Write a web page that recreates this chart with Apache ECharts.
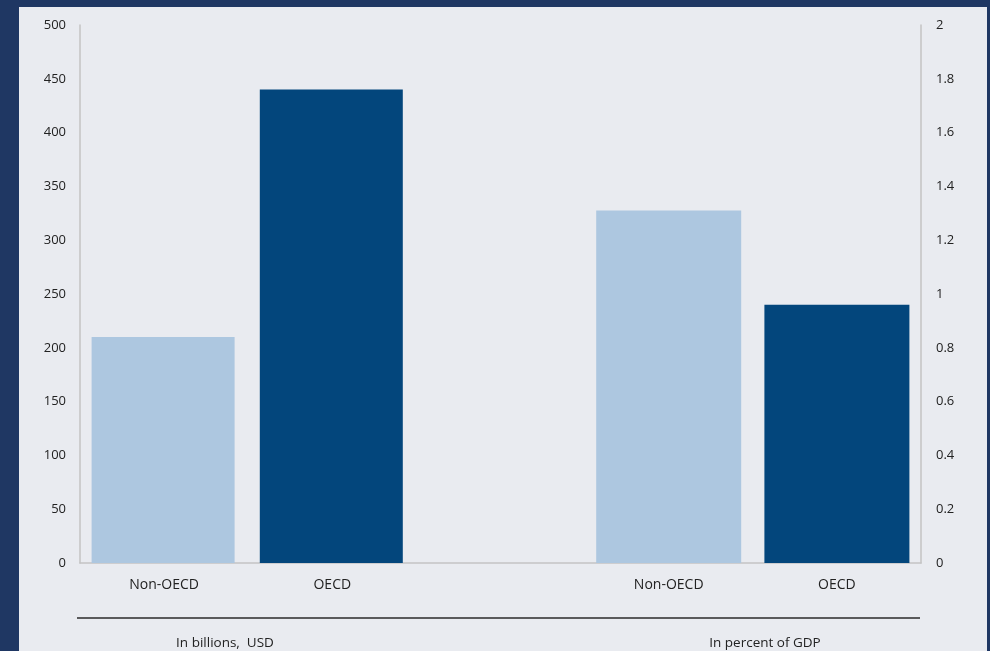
<!DOCTYPE html>
<html>
<head>
<meta charset="utf-8">
<script src="https://cdn.jsdelivr.net/npm/echarts@6/dist/echarts.min.js"></script>
<style>
html,body{margin:0;padding:0;background:#1f3763;width:990px;height:651px;overflow:hidden;}
#panel{position:absolute;left:19px;top:7px;width:968px;height:650px;background:#e9ebf0;}
#chart{position:absolute;left:0;top:0;width:990px;height:651px;}
</style>
</head>
<body>
<div id="panel"></div>
<div id="chart"></div>
<script>
const categories = ['Non-OECD', 'OECD', '', 'Non-OECD', 'OECD'];
const billionsUSD = [210, 440, null, null, null];
const percentGDP = [null, null, null, 1.31, 0.96];
const barColors = ['#adc7e0', '#03467c', '#adc7e0', '#adc7e0', '#03467c'];
const groupLabels = ['In billions,  USD', 'In percent of GDP'];

const chart = echarts.init(document.getElementById('chart'));
const font = '"Open Sans", "Noto Sans", sans-serif';
const colorize = arr => arr.map((v, i) => v === null ? null : { value: v, itemStyle: { color: barColors[i] } });

chart.setOption({
  backgroundColor: 'transparent',
  animation: false,
  grid: { left: 80, right: 69, top: 25, bottom: 88 },
  xAxis: {
    type: 'category',
    data: categories,
    axisLine: { show: true, lineStyle: { color: '#c3c3c3', width: 1.5 } },
    axisTick: { show: false },
    axisLabel: { color: '#222', fontSize: 14, fontFamily: font, margin: 15 }
  },
  yAxis: [
    {
      type: 'value', min: 0, max: 500, interval: 50,
      axisLine: { show: true, lineStyle: { color: '#c3c3c3', width: 1.5 } },
      axisTick: { show: false },
      splitLine: { show: false },
      axisLabel: { color: '#222', fontSize: 13, fontFamily: font, margin: 14 }
    },
    {
      type: 'value', min: 0, max: 2, interval: 0.2,
      axisLine: { show: true, lineStyle: { color: '#c3c3c3', width: 1.5 } },
      axisTick: { show: false },
      splitLine: { show: false },
      axisLabel: { color: '#222', fontSize: 13, fontFamily: font, margin: 15,
        formatter: v => String(Math.round(v * 10) / 10) }
    }
  ],
  series: [
    { type: 'bar', yAxisIndex: 0, data: colorize(billionsUSD), barWidth: 143, barGap: '-100%' },
    { type: 'bar', yAxisIndex: 1, data: colorize(percentGDP), barWidth: 145, barGap: '-100%' }
  ],
  graphic: [
    { type: 'line', shape: { x1: 77, y1: 618, x2: 920, y2: 618 }, style: { stroke: '#2a2a2a', lineWidth: 1.5 } },
    { type: 'text', x: 225, y: 643, style: { text: groupLabels[0], fill: '#222', font: '13.5px ' + font, align: 'center', verticalAlign: 'middle' } },
    { type: 'text', x: 765, y: 643, style: { text: groupLabels[1], fill: '#222', font: '13.5px ' + font, align: 'center', verticalAlign: 'middle' } }
  ]
});
</script>
</body>
</html>
